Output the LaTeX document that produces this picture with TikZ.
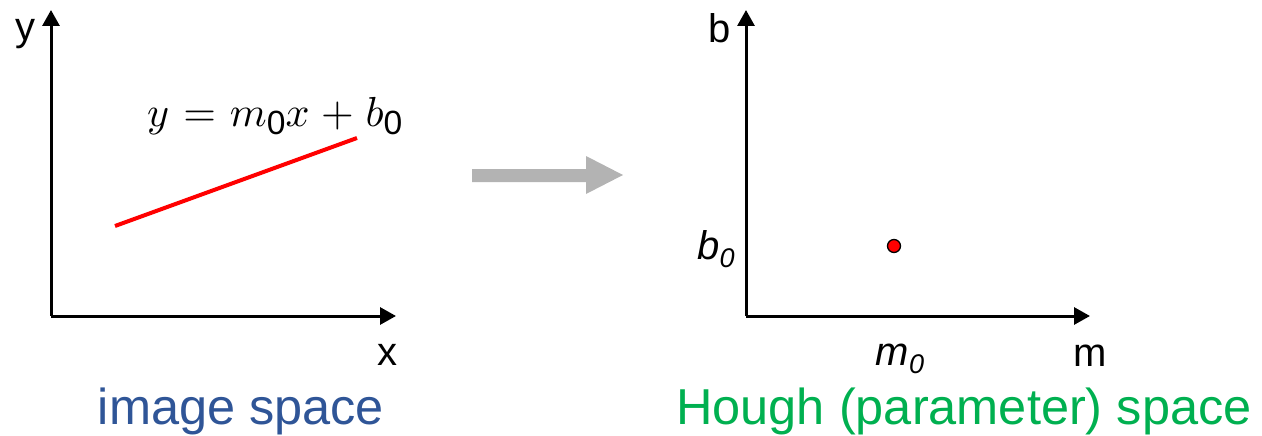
\documentclass[tikz,border=0pt]{standalone}
\usepackage[no-math]{fontspec}
\usepackage{amsmath}
\usepackage{graphicx}
\setmainfont{Liberation Sans}
\usetikzlibrary{arrows.meta}
\definecolor{imgblue}{HTML}{2F5597}
\definecolor{hgreen}{HTML}{00B050}
\definecolor{arrgrey}{HTML}{B3B3B3}
\newcommand{\subz}{\raisebox{-8pt}{\fontsize{27}{29}\selectfont\itshape 0}}
\newcommand{\eqsub}{\raisebox{-1.7pt}{\fontsize{8}{8}\selectfont 0}}
\tikzset{
  axis/.style={line width=3pt, -{Triangle[length=16pt,width=17pt]}},
  axlabel/.style={inner sep=0pt, anchor=base, font=\fontsize{40}{44}\selectfont},
  caption/.style={inner sep=0pt, anchor=base, font=\fontsize{50.5}{56}\selectfont},
  bigarrow/.style={draw=none, fill=arrgrey},
}
\begin{document}
\begin{tikzpicture}[x=1pt,y=-1pt]
\useasboundingbox (0,0) rectangle (1262,436);
% left axes
\coordinate (o1) at (51,316);
\coordinate (ytip) at (51,10);
\coordinate (xtip) at (396,316);
\draw[axis] (o1) -- (ytip);
\draw[axis] (o1) -- (xtip);
\node[axlabel] (ylab) at (26,41) {y};
\node[axlabel] (xlab) at (387,365) {x};
\coordinate (l1) at (115,226);
\coordinate (l2) at (357,138);
\draw[red, line width=4pt] (l1) -- (l2);
\node[inner sep=0pt, anchor=base west, font=\fontsize{10}{12}\selectfont] (eq) at (147,127) {\scalebox{4.2}{$\thickmuskip=6mu\medmuskip=5mu y = m\eqsub x + b\eqsub$}};
\node[caption, text=imgblue] (cap1) at (241,424) {image space};
% grey arrow
\path[bigarrow] (472,169) -- (586,169) -- (586,156) -- (623,175) -- (586,194) -- (586,182) -- (472,182) -- cycle;
% right axes
\coordinate (o2) at (746,316);
\coordinate (btip) at (746,10);
\coordinate (mtip) at (1090,316);
\draw[axis] (o2) -- (btip);
\draw[axis] (o2) -- (mtip);
\node[axlabel] (blab) at (720,43) {b};
\node[axlabel] (mlab) at (1090,366) {m};
\node[axlabel] (b0) at (716,259) {\textit{b}\subz};
\node[axlabel] (m0) at (900,365) {\textit{m}\subz};
\node[circle, fill=red, draw=black, line width=1.3pt, minimum size=13pt, inner sep=0pt] (dot) at (894,246) {};
\node[caption, text=hgreen] (cap2) at (964,424) {Hough (parameter) space};
\end{tikzpicture}
\end{document}
